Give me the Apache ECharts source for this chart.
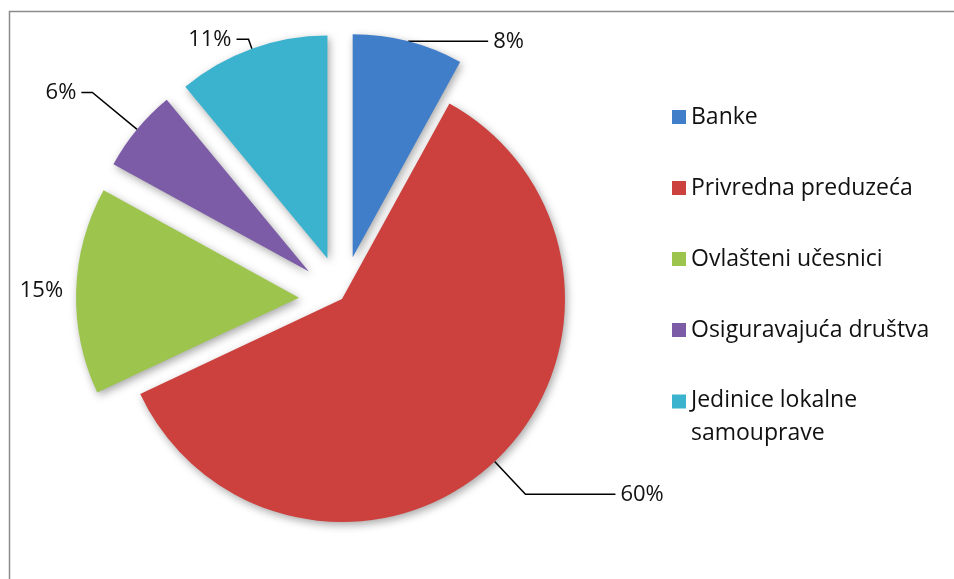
<!DOCTYPE html>
<html>
<head>
<meta charset="utf-8">
<script src="https://cdn.jsdelivr.net/npm/echarts@6/dist/echarts.min.js"></script>
<style>
html,body{margin:0;padding:0;background:#fff;}
#chart{width:954px;height:579px;}
</style>
</head>
<body>
<div id="chart"></div>
<script>
const categories = ['Banke', 'Privredna preduzeća', 'Ovlašteni učesnici', 'Osiguravajuća društva', 'Jedinice lokalne samouprave'];
const values = [8, 60, 15, 6, 11];
const exploded = [true, false, true, true, true];

// styling (kept apart from the data)
const colors = ['#417ec9', '#cc413e', '#9dc54e', '#7c5ca6', '#3bb3cf'];
const leader = [
  { length: 0, length2: 80, show: true },
  { length: 45, length2: 90, show: true },
  { length: 0, length2: 8, show: false },
  { length: 58, length2: 11, show: true },
  { length: 10, length2: 12, show: true }
];

const chart = echarts.init(document.getElementById('chart'));
const FONT = '"Open Sans", sans-serif';

const data = categories.map((name, i) => ({
  name: name,
  value: values[i],
  selected: exploded[i],
  itemStyle: { color: colors[i] },
  select: { itemStyle: { color: colors[i] } },
  labelLine: { show: leader[i].show, length: leader[i].length, length2: leader[i].length2 }
}));

const legendBase = {
  orient: 'vertical',
  left: 672,
  padding: 0,
  itemWidth: 14,
  itemHeight: 14,
  itemGap: 47,
  icon: 'rect',
  selectedMode: false
};

chart.setOption({
  animation: false,
  backgroundColor: '#ffffff',
  graphic: [{
    type: 'rect',
    shape: { x: 9.5, y: 11.5, width: 1200, height: 1200 },
    style: { fill: 'none', stroke: '#8c8c8c', lineWidth: 1.5 },
    silent: true
  }],
  legend: [
    Object.assign({}, legendBase, {
      top: 105,
      data: categories.slice(0, 4),
      textStyle: { fontFamily: FONT, fontSize: 23, color: '#111', lineHeight: 24 }
    }),
    Object.assign({}, legendBase, {
      top: 389,
      data: categories.slice(4),
      formatter: function (name) {
        const words = name.split(' ');
        return '{a|' + words.slice(0, 2).join(' ') + '}\n{b|' + words.slice(2).join(' ') + '}';
      },
      textStyle: {
        fontFamily: FONT, fontSize: 23, color: '#111',
        rich: {
          a: { fontFamily: FONT, fontSize: 23, color: '#111', lineHeight: 64 },
          b: { fontFamily: FONT, fontSize: 23, color: '#111', lineHeight: 2 }
        }
      }
    })
  ],
  series: [{
    type: 'pie',
    center: [342, 299],
    radius: 223,
    startAngle: 90,
    clockwise: true,
    avoidLabelOverlap: false,
    selectedMode: 'multiple',
    selectedOffset: 43,
    data: data,
    itemStyle: {
      shadowBlur: 8,
      shadowColor: 'rgba(0,0,0,0.35)',
      shadowOffsetX: 2,
      shadowOffsetY: 3
    },
    label: {
      show: true,
      position: 'outside',
      formatter: '{c}%',
      fontFamily: FONT,
      fontSize: 22,
      color: '#111'
    },
    labelLine: {
      show: true,
      lineStyle: { color: '#000', width: 1.5 }
    },
    emphasis: { disabled: true }
  }]
});
</script>
</body>
</html>
